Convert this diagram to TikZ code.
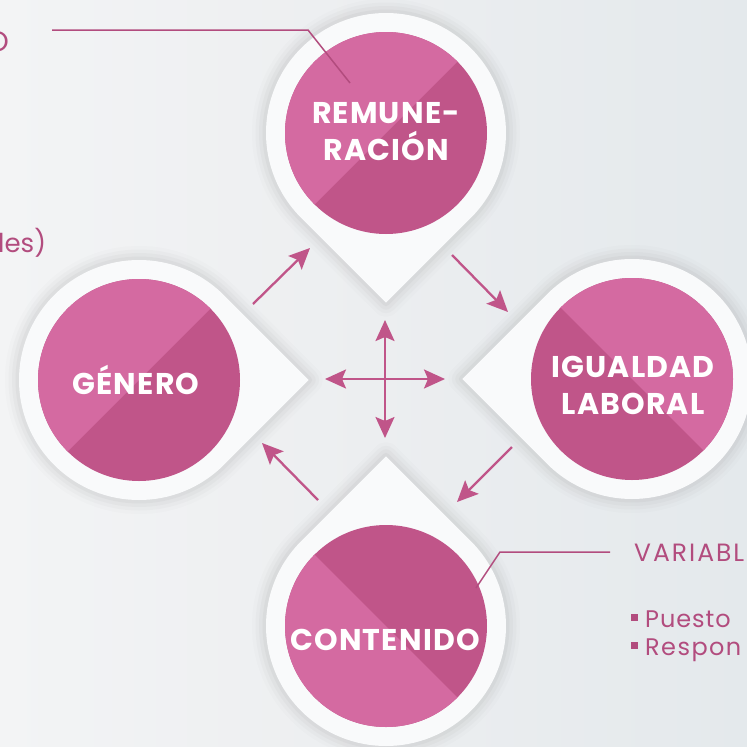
\documentclass[tikz,border=0pt]{standalone}
\usepackage{fontspec}
\setmainfont{Poppins}
\usetikzlibrary{calc,arrows.meta}
\definecolor{pinkL}{HTML}{D46AA1}
\definecolor{pinkD}{HTML}{C05589}
\definecolor{pinkT}{HTML}{B24C7E}
\definecolor{bgL}{HTML}{F3F4F5}
\definecolor{bgM}{HTML}{ECEEF0}
\definecolor{bgR}{HTML}{E4E9EC}
\definecolor{pinW}{HTML}{F9FAFB}
\newcommand\pinpath[2]{($(#1)+(#2:169.7)$) -- ($(#1)+(#2+45:120)$) arc[start angle=#2+45, delta angle=270, radius=120] -- cycle}
\newcommand\lighthalf[2]{($(#1)+(#2:101)$) arc[start angle=#2, delta angle=180, radius=101] -- cycle}
\tikzset{
  lbl/.style={text=white, font=\bfseries\fontsize{30}{37}\selectfont\addfontfeatures{LetterSpace=4}, align=center, inner sep=0pt},
  side/.style={text=pinkT, inner sep=0pt},
  conn/.style={draw=pinkT, line width=1.5pt},
  arr/.style={draw=pinkD, line width=2.3pt, -{Stealth[length=21pt,width=19pt,inset=4pt]}},
}
\begin{document}
\begin{tikzpicture}[x=1pt,y=-1pt]
\useasboundingbox (0,0) rectangle (747,747);
\clip (0,0) rectangle (747,747);
\shade[left color=bgL, right color=bgR, middle color=bgM] (0,0) rectangle (747,747);
% pin centres
\coordinate (ct) at (386,133);
\coordinate (cl) at (139,380);
\coordinate (cr) at (632,379);
\coordinate (cb) at (386,626);
% shadows
\foreach \c/\a in {ct/90, cl/0, cr/180, cb/270}{
  \foreach \w/\o in {28/0.02, 21/0.03, 14/0.04, 7/0.05}{
    \draw[line width=\w pt, draw=black!60, draw opacity=\o, line join=round, yshift=-3pt] \pinpath{\c}{\a};
  }
}
% white pins
\foreach \c/\a in {ct/90, cl/0, cr/180, cb/270}{
  \fill[pinW] \pinpath{\c}{\a};
}
% pink discs
\foreach \c/\s in {ct/135, cl/135, cr/225, cb/45}{
  \fill[pinkD] (\c) circle[radius=101];
  \fill[pinkL] \lighthalf{\c}{\s};
}
% labels
\node[lbl] (rem) at (386,132) {REMUNE-\\RACIÓN};
\node[lbl] (gen) at (136,380) {GÉNERO};
\node[lbl] (igu) at (633,385) {IGUALDAD\\LABORAL};
\node[lbl] (con) at (385,640) {CONTENIDO};
% side texts
\node[side, anchor=east, font=\fontsize{28}{30}\selectfont] (o) at (9,42) {O};
\node[side, anchor=base west, font=\fontsize{26}{30}\selectfont] (les) at (-2,252) {les)};
\node[side, anchor=base west, font=\fontsize{25}{28}\selectfont\addfontfeatures{LetterSpace=8}] (var) at (634,561) {VARIABL};
\node[side, anchor=base west, font=\fontsize{24}{28}\selectfont\addfontfeatures{LetterSpace=4}] (pue) at (645,627) {Puesto};
\node[side, anchor=base west, font=\fontsize{24}{28}\selectfont\addfontfeatures{LetterSpace=6}] (res) at (645,655) {Respon};
\fill[pinkT] (631,614) rectangle (638,621);
\fill[pinkT] (631,642) rectangle (638,649);
% callout lines
\coordinate (c1a) at (52,30);
\coordinate (c1b) at (308,30);
\coordinate (c1c) at (350,83);
\draw[conn] (c1a) -- (c1b) -- (c1c);
\coordinate (c2a) at (476,588);
\coordinate (c2b) at (500,552);
\coordinate (c2c) at (610,552);
\draw[conn] (c2a) -- (c2b) -- (c2c);
% cycle arrows
\coordinate (a1s) at (253,304); \coordinate (a1e) at (310,248);
\coordinate (a2s) at (452,255); \coordinate (a2e) at (508,312);
\coordinate (a3s) at (512,447); \coordinate (a3e) at (457,502);
\coordinate (a4s) at (318,500); \coordinate (a4e) at (262,443);
\draw[arr] (a1s) -- (a1e);
\draw[arr] (a2s) -- (a2e);
\draw[arr] (a3s) -- (a3e);
\draw[arr] (a4s) -- (a4e);
% centre cross
\coordinate (ctr) at (385,379);
\coordinate (xu) at (385,320);
\coordinate (xd) at (385,438);
\coordinate (xl) at (325,379);
\coordinate (xr) at (445,379);
\draw[arr] (ctr) -- (xu);
\draw[arr] (ctr) -- (xd);
\draw[arr] (ctr) -- (xl);
\draw[arr] (ctr) -- (xr);
\end{tikzpicture}
\end{document}
